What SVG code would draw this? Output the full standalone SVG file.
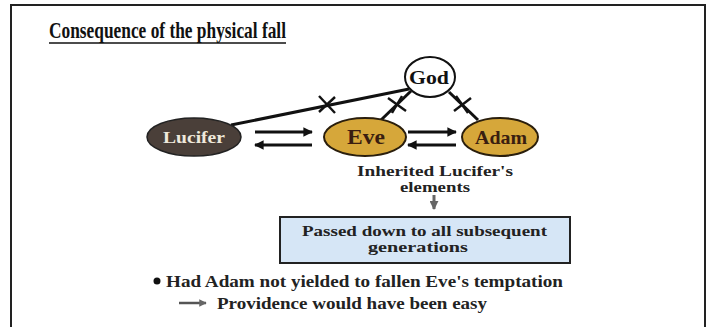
<svg xmlns="http://www.w3.org/2000/svg" width="710" height="327" viewBox="0 0 710 327">
<style>
.t{font-family:"Liberation Serif","Times New Roman",serif;font-weight:bold;}
.link{stroke:#111;stroke-width:3;fill:none;}
.x{stroke:#111;stroke-width:2.4;}
.arr{stroke:#111;stroke-width:3.2;fill:none;}
.gold{fill:#d6a73a;stroke:#2a1e0c;stroke-width:2;}
</style>
<defs>
<marker id="ah" viewBox="0 0 10 10" refX="9" refY="5" markerWidth="3" markerHeight="3" orient="auto">
<path d="M0,0 L10,5 L0,10 z" fill="#111"/>
</marker>
<marker id="ahg" viewBox="0 0 10 10" refX="9" refY="5" markerWidth="3" markerHeight="3" orient="auto">
<path d="M0,0 L10,5 L0,10 z" fill="#666"/>
</marker>
</defs>
<rect width="710" height="327" fill="#fff"/>
<path d="M11,330 V5 H705 V330" fill="none" stroke="#222" stroke-width="2"/>
<text class="t" x="49" y="38" font-size="23" fill="#111" textLength="237" lengthAdjust="spacingAndGlyphs">Consequence of the physical fall</text>
<line x1="49" y1="43" x2="286" y2="43" stroke="#111" stroke-width="1.6"/>

<g id="connectors">
<line class="link" x1="231" y1="125" x2="409" y2="89"/>
<line class="x" x1="319" y1="96" x2="335" y2="113"/>
<line class="x" x1="335" y1="97" x2="319" y2="112"/>
<line class="link" x1="381" y1="120" x2="411" y2="91"/>
<line class="x" x1="388" y1="98" x2="406" y2="111"/>
<line class="x" x1="392" y1="113" x2="402" y2="96"/>
<line class="link" x1="449" y1="92" x2="478" y2="120"/>
<line class="x" x1="454" y1="111" x2="471" y2="98"/>
<line class="x" x1="456" y1="96" x2="468" y2="113"/>
<line class="arr" x1="255" y1="132" x2="312" y2="132" marker-end="url(#ah)"/>
<line class="arr" x1="312" y1="145" x2="255" y2="145" marker-end="url(#ah)"/>
<line class="arr" x1="408" y1="132" x2="456" y2="132" marker-end="url(#ah)"/>
<line class="arr" x1="456" y1="145" x2="408" y2="145" marker-end="url(#ah)"/>
<line x1="434" y1="195" x2="434" y2="209" stroke="#666" stroke-width="3" marker-end="url(#ahg)"/>
</g>

<g id="god">
<ellipse cx="430" cy="77" rx="25" ry="20" fill="#fff" stroke="#111" stroke-width="2"/>
<text class="t" x="409" y="84" font-size="19" fill="#111" textLength="40" lengthAdjust="spacingAndGlyphs">God</text>
</g>
<g id="lucifer">
<ellipse cx="194" cy="137" rx="47" ry="19" fill="#4a3f39" stroke="#222" stroke-width="1.5"/>
<text class="t" x="163" y="143" font-size="17" fill="#efe9dc" textLength="62" lengthAdjust="spacingAndGlyphs">Lucifer</text>
</g>
<g id="eve">
<ellipse class="gold" cx="365" cy="137" rx="41" ry="19"/>
<text class="t" x="347" y="144" font-size="20" fill="#3a1e10" textLength="38" lengthAdjust="spacingAndGlyphs">Eve</text>
</g>
<g id="adam">
<ellipse class="gold" cx="500" cy="137" rx="38" ry="19"/>
<text class="t" x="475" y="144" font-size="19" fill="#3a1e10" textLength="52" lengthAdjust="spacingAndGlyphs">Adam</text>
</g>

<g id="inherited">
<text class="t" x="357" y="176" font-size="15" fill="#222" textLength="156" lengthAdjust="spacingAndGlyphs">Inherited Lucifer's</text>
<text class="t" x="400" y="192" font-size="15" fill="#222" textLength="70" lengthAdjust="spacingAndGlyphs">elements</text>
</g>

<g id="passed">
<rect x="280" y="217" width="290" height="46" fill="#d6e6f6" stroke="#222" stroke-width="2"/>
<text class="t" x="302" y="236" font-size="15.5" fill="#222" textLength="245" lengthAdjust="spacingAndGlyphs">Passed down to all subsequent</text>
<text class="t" x="368" y="252" font-size="15.5" fill="#222" textLength="100" lengthAdjust="spacingAndGlyphs">generations</text>
</g>

<g id="notes">
<circle cx="157" cy="281" r="3.5" fill="#111"/>
<text class="t" x="166" y="287" font-size="17" fill="#222" textLength="397" lengthAdjust="spacingAndGlyphs">Had Adam not yielded to fallen Eve's temptation</text>
<line x1="179" y1="303" x2="206" y2="303" stroke="#555" stroke-width="2.5" marker-end="url(#ahg)"/>
<text class="t" x="217" y="309" font-size="17" fill="#222" textLength="270" lengthAdjust="spacingAndGlyphs">Providence would have been easy</text>
</g>
</svg>
